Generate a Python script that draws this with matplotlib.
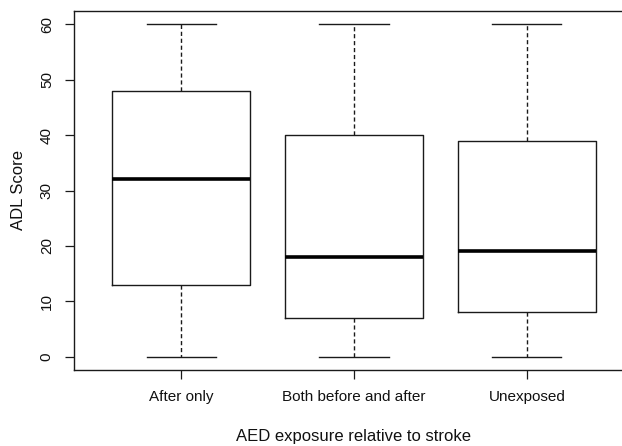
import matplotlib
matplotlib.use("Agg")
import matplotlib.pyplot as plt

categories = ["After only", "Both before and after", "Unexposed"]
whisker_low = [0, 0, 0]
q1 = [13, 7, 8]
median = [32, 18, 19]
q3 = [48, 40, 39]
whisker_high = [60, 60, 60]

plt.rcParams['font.family'] = ['Liberation Sans', 'DejaVu Sans']

stats = []
for i, name in enumerate(categories):
    stats.append({
        'label': name,
        'whislo': whisker_low[i],
        'q1': q1[i],
        'med': median[i],
        'q3': q3[i],
        'whishi': whisker_high[i],
        'fliers': [],
    })

fig = plt.figure(figsize=(6.22, 4.46), dpi=100)
# the original is cut on the right, so the axes run past the figure edge
ax = fig.add_axes([74 / 622, 76 / 446, 560 / 622, 359 / 446])

line_col = '#1a1a1a'
ax.bxp(stats, positions=[1, 2, 3], widths=0.8, showfliers=False,
       boxprops=dict(color=line_col, linewidth=1.0),
       medianprops=dict(color='black', linewidth=2.6),
       whiskerprops=dict(color=line_col, linewidth=1.0, linestyle=(0, (3, 2))),
       capprops=dict(color=line_col, linewidth=1.0),
       capwidths=0.4)

ax.set_xlim(0.38, 3.62)
ax.set_ylim(-2.4, 62.4)
ax.set_yticks([0, 10, 20, 30, 40, 50, 60])
ax.set_xticks([1, 2, 3])
ax.set_xticklabels(categories)
for lbl in ax.get_yticklabels():
    lbl.set_rotation(90)
    lbl.set_va('center')

ax.tick_params(axis='both', direction='out', length=6.5, width=0.9,
               color=line_col, labelsize=11, labelcolor='#111')
ax.tick_params(axis='x', pad=8)
ax.tick_params(axis='y', pad=8)

for sp in ax.spines.values():
    sp.set_linewidth(1.0)
    sp.set_color(line_col)

ax.set_ylabel('ADL Score', fontsize=12, labelpad=10, color='#111')
ax.set_xlabel('AED exposure relative to stroke', fontsize=12, labelpad=18, color='#111')

fig.savefig('out.png', dpi=100)
